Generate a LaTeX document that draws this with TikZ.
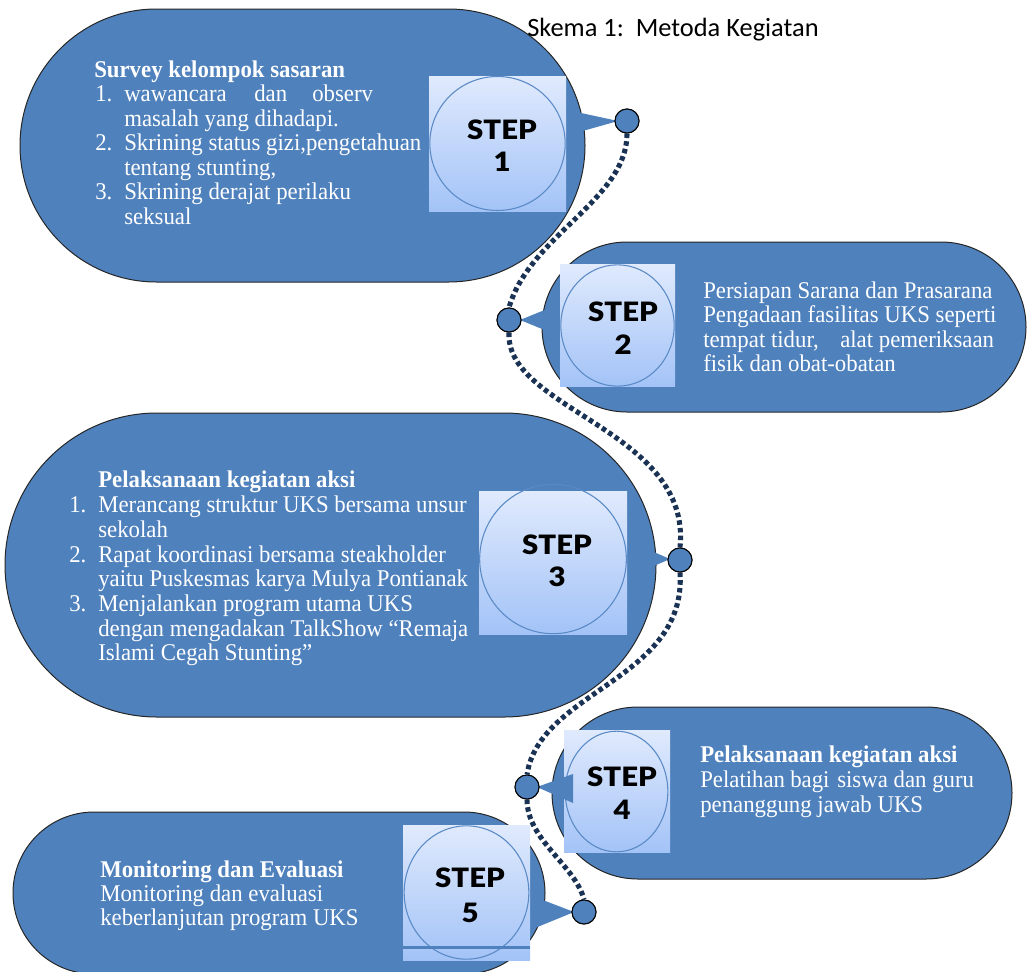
\documentclass[tikz,border=0pt]{standalone}
\usepackage{fontspec}
\setmainfont{Liberation Serif}
\newfontfamily\cam{Liberation Serif}[FakeStretch=0.95]
\newfontfamily\stepfont{Lato Black}[FakeStretch=1.1]
\newfontfamily\titlefont{Carlito}
\usetikzlibrary{shapes.misc,shapes.geometric}
\definecolor{shapeblue}{HTML}{4F81BD}
\definecolor{dotnavy}{HTML}{1A3254}
\definecolor{boxtop}{HTML}{E0EAFD}
\definecolor{boxbot}{HTML}{A3C3F7}
\definecolor{ellline}{HTML}{5A8AC6}
\tikzset{
 stadium/.style={rounded rectangle, fill=shapeblue, draw=black!85, line width=0.75pt, inner sep=0pt},
 stepbox/.style={rectangle, top color=boxtop, bottom color=boxbot, draw=none, inner sep=0pt},
 stepring/.style={ellipse, draw=ellline, line width=0.8pt, inner sep=0pt},
 pointer/.style={fill=shapeblue, draw=none},
 joint/.style={circle, fill=shapeblue, draw=black, line width=0.75pt, minimum size=18pt, inner sep=0pt},
 trail/.style={draw=dotnavy, line width=3.8pt, dash pattern=on 3.4pt off 2.4pt},
 txt/.style={anchor=base west, inner sep=0pt, text=white, font=\cam\fontsize{18pt}{20pt}\selectfont},
 btxt/.style={anchor=base west, inner sep=0pt, text=white, font=\cam\bfseries\fontsize{18pt}{20pt}\selectfont},
 steplbl/.style={font=\stepfont\fontsize{20pt}{22pt}\selectfont, text=black, inner sep=0pt},
}
\begin{document}
\begin{tikzpicture}[x=0.75pt,y=-0.75pt]
\useasboundingbox (0,0) rectangle (1027,971);
% big shapes
\node[stadium, minimum width=423.75pt, minimum height=204.75pt] (s1) at (302.5,145.5) {};
\node[stadium, minimum width=363pt, minimum height=127.5pt] (s2) at (784,327) {};
\node[stadium, minimum width=488.25pt, minimum height=228pt] (s3) at (330.5,565) {};
\node[stadium, minimum width=345pt, minimum height=129pt] (s4) at (782,793) {};
\node[stadium, minimum width=399pt, minimum height=121.5pt] (s5) at (279,893) {};
% pointers (behind boxes except step 4)
\fill[pointer] (558,108) -- (558,138) -- (618,121) -- cycle;
\fill[pointer] (520,320) -- (552,307) -- (552,333) -- cycle;
\fill[pointer] (640,546) -- (640,572) -- (670,559) -- cycle;
\fill[pointer] (535,897) -- (535,928) -- (574,912) -- cycle;
% step boxes
\node[stepbox, minimum width=102.75pt, minimum height=101.25pt] (b1) at (497.5,143.5) {};
\node[stepring, minimum width=101.5pt, minimum height=100.5pt] (e1) at (497.5,143.5) {};
\node[stepbox, minimum width=86.25pt, minimum height=91.5pt] (b2) at (617.5,325) {};
\node[stepring, minimum width=85pt, minimum height=91pt] (e2) at (617.5,325.5) {};
\node[stepbox, minimum width=111pt, minimum height=107.25pt] (b3) at (553,562.5) {};
\node[stepring, minimum width=110pt, minimum height=112pt] (e3) at (553,559) {};
\node[stepbox, minimum width=79.5pt, minimum height=91.5pt] (b4) at (617,791) {};
\node[stepring, minimum width=77pt, minimum height=90.5pt] (e4) at (616.5,791.5) {};
\node[stepbox, minimum width=95.25pt, minimum height=101.25pt] (b5) at (466.5,892.5) {};
\node[stepring, minimum width=93.5pt, minimum height=100pt] (e5) at (466.5,892.5) {};
\draw[shapeblue, line width=1.6pt] (b5.west |- 0,947.5) -- (b5.east |- 0,947.5);
\fill[pointer] (537,787) -- (573,774) -- (573,803) -- cycle;
% step labels
\node[steplbl] (l1a) at (502,130) {STEP};
\node[steplbl] (l1b) at (502,162) {1};
\node[steplbl] (l2a) at (623,312) {STEP};
\node[steplbl] (l2b) at (623,345) {2};
\node[steplbl] (l3a) at (557,545) {STEP};
\node[steplbl] (l3b) at (557,577) {3};
\node[steplbl] (l4a) at (622,777) {STEP};
\node[steplbl] (l4b) at (622,810) {4};
\node[steplbl] (l5a) at (470,878) {STEP};
\node[steplbl] (l5b) at (470,913) {5};
% joints
\node[joint] (c1) at (627,121) {};
\node[joint] (c2) at (509,320) {};
\node[joint] (c3) at (680,560) {};
\node[joint] (c4) at (527,787) {};
\node[joint] (c5) at (584,912) {};
% dotted trail
\draw[trail] (c1.south) .. controls (627,200) and (530,235) .. (c2.north);
\draw[trail] (c2.south) .. controls (505,410) and (692,430) .. (c3.north);
\draw[trail] (c3.south) .. controls (687,680) and (540,690) .. (c4.north);
\draw[trail] (c4.south) .. controls (527,840) and (575,865) .. (c5.north);
% redraw joints over trail
\node[joint] (c1b) at (627,121) {};
\node[joint] (c2b) at (509,320) {};
\node[joint] (c3b) at (680,560) {};
\node[joint] (c4b) at (527,787) {};
\node[joint] (c5b) at (584,912) {};
% texts shape 1
\node[btxt] (t1h) at (94,77) {Survey kelompok sasaran};
\node[txt] (t1n1) at (95,101.5) {1.};
\node[txt] (t1a) at (124,101.5) {wawancara};
\node[txt] (t1b) at (254,101.5) {dan};
\node[txt] (t1c) at (312,101.5) {observ};
\node[txt] (t1d) at (124,126) {masalah yang dihadapi.};
\node[txt] (t1n2) at (95,150.5) {2.};
\node[txt] (t1e) at (124,150.5) {Skrining status gizi,pengetahuan};
\node[txt] (t1f) at (124,175) {tentang stunting,};
\node[txt] (t1n3) at (95,199.5) {3.};
\node[txt] (t1g) at (124,199.5) {Skrining derajat perilaku};
\node[txt] (t1i) at (124,224) {seksual};
% texts shape 2
\node[txt] (t2a) at (703,298) {Persiapan Sarana dan Prasarana};
\node[txt] (t2b) at (703,322.5) {Pengadaan fasilitas UKS seperti};
\node[txt] (t2c) at (703,347) {tempat tidur,};
\node[txt] (t2d) at (840,347) {alat pemeriksaan};
\node[txt] (t2e) at (703,371.5) {fisik dan obat-obatan};
% texts shape 3
\node[btxt] (t3h) at (98,487) {Pelaksanaan kegiatan aksi};
\node[txt] (t3n1) at (69,512) {1.};
\node[txt] (t3a) at (98,512) {Merancang struktur UKS bersama unsur};
\node[txt] (t3b) at (98,537) {sekolah};
\node[txt] (t3n2) at (69,562) {2.};
\node[txt] (t3c) at (98,562) {Rapat koordinasi bersama steakholder};
\node[txt] (t3d) at (98,586.5) {yaitu Puskesmas karya Mulya Pontianak};
\node[txt] (t3n3) at (69,611) {3.};
\node[txt] (t3e) at (98,611) {Menjalankan program utama UKS};
\node[txt] (t3f) at (98,636) {dengan mengadakan TalkShow “Remaja};
\node[txt] (t3g) at (98,660.5) {Islami Cegah Stunting”};
% texts shape 4
\node[btxt] (t4h) at (700,762) {Pelaksanaan kegiatan aksi};
\node[txt] (t4a) at (700,787) {Pelatihan};
\node[txt] (t4b) at (790,787) {bagi};
\node[txt] (t4c) at (837,787) {siswa dan guru};
\node[txt] (t4d) at (700,812) {penanggung jawab UKS};
% texts shape 5
\node[btxt] (t5h) at (100,877) {Monitoring dan Evaluasi};
\node[txt] (t5a) at (100,901) {Monitoring dan evaluasi};
\node[txt] (t5b) at (100,925) {keberlanjutan program UKS};
% title
\node[anchor=base west, inner sep=0pt, font=\titlefont\fontsize{19.8pt}{22pt}\selectfont] (title) at (527,36) {Skema 1:\ \ Metoda Kegiatan};
\end{tikzpicture}
\end{document}
